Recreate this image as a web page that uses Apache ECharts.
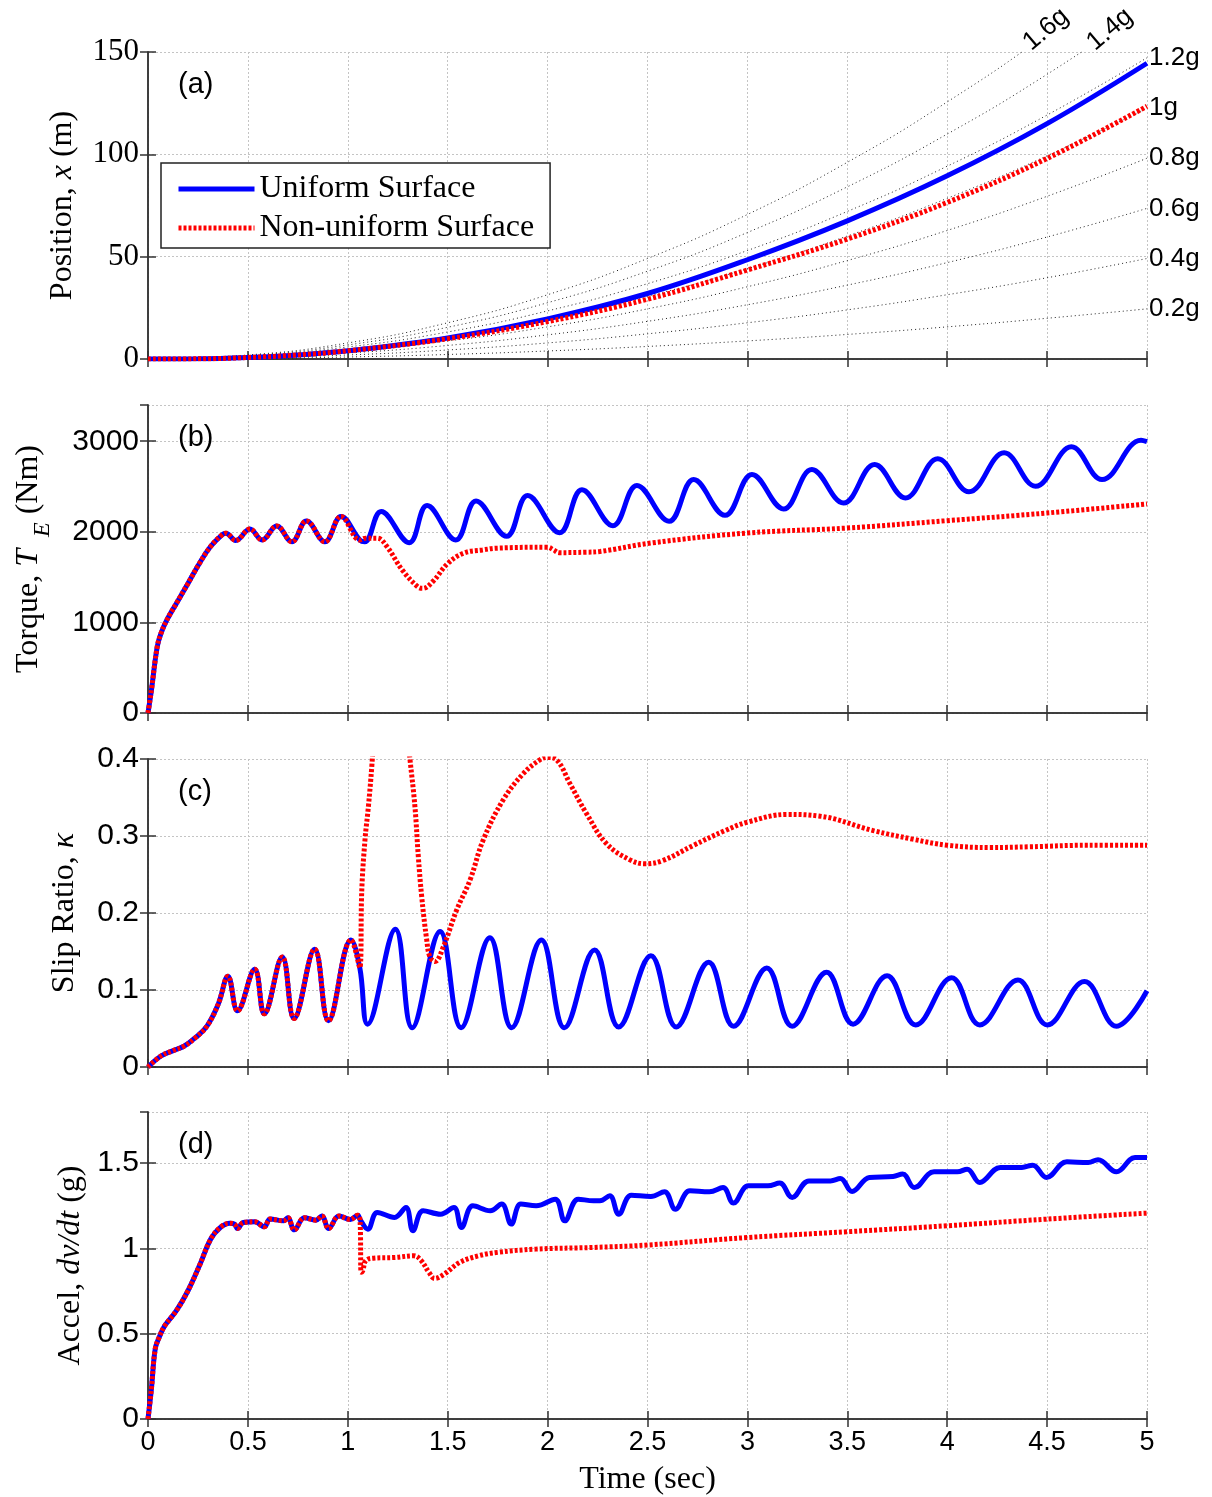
<!DOCTYPE html>
<html><head><meta charset="utf-8">
<script src="https://cdn.jsdelivr.net/npm/echarts@6/dist/echarts.min.js"></script>
<style>html,body{margin:0;padding:0;background:#fff}#c{width:1212px;height:1497px}</style>
</head><body><div id="c"></div>
<script>
// ---------- DATA ----------
// constant-acceleration reference curves (panel a), values at timeGrid
const timeGrid = [0, 0.5, 1, 1.5, 2, 2.5, 3, 3.5, 4, 4.5, 5];
const gNames = ['0.2g', '0.4g', '0.6g', '0.8g', '1g', '1.2g', '1.4g', '1.6g'];
const g02 = [0, 0.25, 0.98, 2.21, 3.92, 6.13, 8.83, 12.0, 15.7, 19.9, 24.5];
const g04 = [0, 0.49, 1.96, 4.41, 7.85, 12.3, 17.7, 24.0, 31.4, 39.7, 49.1];
const g06 = [0, 0.74, 2.94, 6.62, 11.8, 18.4, 26.5, 36.1, 47.1, 59.6, 73.6];
const g08 = [0, 0.98, 3.92, 8.83, 15.7, 24.5, 35.3, 48.1, 62.8, 79.5, 98.1];
const g10 = [0, 1.23, 4.91, 11.0, 19.6, 30.7, 44.1, 60.1, 78.5, 99.3, 122.6];
const g12 = [0, 1.47, 5.89, 13.2, 23.5, 36.8, 53.0, 72.1, 94.2, 119.2, 147.2];
const g14 = [0, 1.72, 6.87, 15.5, 27.5, 42.9, 61.8, 84.1, 109.9, 139.1, 171.7];
const g16 = [0, 1.96, 7.85, 17.7, 31.4, 49.1, 70.6, 96.1, 125.6, 158.9, 196.2];
// times where the 1.4g / 1.6g curves leave the top of panel (a)
const gExitT = [4.68, 4.36];

// position (a)
const posT = [0, 0.25, 0.5, 0.75, 1, 1.5, 2, 2.5, 3, 3.5, 4, 4.5, 5];
const posUni = [0, 0.08, 0.74, 2.0, 4.0, 10.3, 19.6, 32, 48.5, 67.5, 89.5, 115, 144.5];
const posNon = [0, 0.08, 0.74, 2.0, 4.0, 9.9, 18.3, 29.2, 43.5, 58.6, 76.5, 98, 123.5];

// torque (b)
const torqueCommonT = [0, 0.017, 0.046, 0.065, 0.094, 0.142, 0.2, 0.257, 0.314, 0.372, 0.39, 0.439, 0.51, 0.571, 0.644, 0.72, 0.793, 0.885, 0.966, 1.06];
const torqueCommonV = [0, 250, 730, 880, 1025, 1210, 1430, 1650, 1840, 1970, 1985, 1905, 2030, 1910, 2065, 1890, 2120, 1890, 2170, 1910];
const torqueUniT = [1.085, 1.167, 1.307, 1.397, 1.54, 1.642, 1.795, 1.90, 2.06, 2.172, 2.327, 2.447, 2.608, 2.731, 2.888, 3.023, 3.181, 3.323, 3.481, 3.637, 3.791, 3.953, 4.109, 4.285, 4.442, 4.622, 4.775, 4.97, 5.0];
const torqueUniV = [1890, 2225, 1880, 2290, 1910, 2340, 1950, 2400, 1990, 2465, 2068, 2511, 2116, 2577, 2182, 2632, 2252, 2688, 2318, 2743, 2374, 2806, 2441, 2872, 2503, 2939, 2577, 3012, 2995];
const torqueNonT = [1.09, 1.147, 1.195, 1.272, 1.349, 1.375, 1.425, 1.50, 1.58, 1.674, 1.75, 2.0, 2.03, 2.057, 2.19, 2.262, 2.516, 3.0, 3.5, 4.0, 4.5, 5.0];
const torqueNonV = [1930, 1930, 1840, 1580, 1395, 1376, 1450, 1650, 1765, 1800, 1820, 1830, 1800, 1770, 1775, 1783, 1876, 1987, 2042, 2123, 2208, 2308];

// slip ratio (c)
const slipCommonT = [0, 0.065, 0.123, 0.18, 0.237, 0.295, 0.352, 0.4, 0.448, 0.534, 0.582, 0.672, 0.731, 0.834, 0.903, 1.016, 1.06];
const slipCommonV = [0, 0.0143, 0.021, 0.027, 0.038, 0.053, 0.082, 0.118, 0.073, 0.127, 0.069, 0.143, 0.063, 0.153, 0.060, 0.165, 0.129];
const slipUniT = [1.099, 1.238, 1.322, 1.462, 1.567, 1.711, 1.82, 1.969, 2.084, 2.235, 2.356, 2.517, 2.644, 2.806, 2.931, 3.097, 3.224, 3.396, 3.529, 3.699, 3.842, 4.022, 4.163, 4.354, 4.501, 4.687, 4.847, 5.0];
const slipUniV = [0.0556, 0.179, 0.051, 0.176, 0.051, 0.168, 0.051, 0.165, 0.051, 0.152, 0.052, 0.1446, 0.052, 0.136, 0.053, 0.1285, 0.053, 0.123, 0.0556, 0.1185, 0.0547, 0.116, 0.0547, 0.113, 0.0547, 0.111, 0.053, 0.099];
const slipNonT = [1.07, 1.086, 1.103, 1.12, 1.15, 1.21, 1.27, 1.311, 1.336, 1.353, 1.37, 1.395, 1.411, 1.436, 1.478, 1.545, 1.612, 1.678, 1.778, 1.878, 1.962, 2.0, 2.045, 2.112, 2.195, 2.295, 2.412, 2.487, 2.575, 2.731, 2.888, 3.0, 3.2, 3.357, 3.63, 3.826, 4.0, 4.217, 4.413, 4.706, 5.0];
const slipNonV = [0.23, 0.295, 0.338, 0.39, 0.5, 0.6, 0.5, 0.4, 0.338, 0.273, 0.221, 0.165, 0.143, 0.137, 0.156, 0.204, 0.243, 0.295, 0.347, 0.381, 0.399, 0.402, 0.399, 0.368, 0.329, 0.29, 0.269, 0.264, 0.268, 0.288, 0.307, 0.318, 0.328, 0.326, 0.307, 0.296, 0.288, 0.285, 0.286, 0.288, 0.288];

// acceleration (d)
const accCommonT = [0, 0.017, 0.036, 0.056, 0.084, 0.142, 0.2, 0.257, 0.314, 0.362, 0.41, 0.433, 0.448, 0.477, 0.534, 0.582, 0.611, 0.678, 0.7, 0.732, 0.783, 0.84, 0.87, 0.904, 0.956, 1.013, 1.05, 1.061];
const accCommonV = [0, 0.176, 0.41, 0.479, 0.547, 0.635, 0.752, 0.898, 1.055, 1.123, 1.148, 1.143, 1.117, 1.152, 1.156, 1.127, 1.172, 1.162, 1.18, 1.109, 1.18, 1.166, 1.19, 1.117, 1.19, 1.17, 1.195, 1.17];
const accUniT = [1.1, 1.148, 1.234, 1.291, 1.326, 1.377, 1.464, 1.531, 1.569, 1.626, 1.713, 1.77, 1.818, 1.866, 1.943, 2.038, 2.086, 2.153, 2.23, 2.262, 2.311, 2.356, 2.419, 2.517, 2.585, 2.64, 2.712, 2.81, 2.878, 2.93, 3.005, 3.103, 3.162, 3.224, 3.308, 3.416, 3.465, 3.524, 3.611, 3.729, 3.777, 3.836, 3.934, 4.051, 4.1, 4.163, 4.266, 4.374, 4.428, 4.497, 4.599, 4.706, 4.755, 4.847, 4.94, 5.0];
const accUniV = [1.113, 1.211, 1.182, 1.24, 1.104, 1.221, 1.201, 1.24, 1.123, 1.25, 1.221, 1.26, 1.143, 1.26, 1.25, 1.289, 1.162, 1.289, 1.279, 1.279, 1.309, 1.201, 1.3125, 1.305, 1.332, 1.23, 1.338, 1.332, 1.357, 1.266, 1.367, 1.367, 1.383, 1.299, 1.396, 1.396, 1.41, 1.334, 1.416, 1.422, 1.436, 1.357, 1.449, 1.449, 1.465, 1.387, 1.475, 1.475, 1.488, 1.416, 1.508, 1.504, 1.52, 1.449, 1.533, 1.533];
const accNonT = [1.067, 1.075, 1.09, 1.128, 1.234, 1.33, 1.368, 1.406, 1.435, 1.483, 1.56, 1.655, 1.75, 1.94, 2.23, 2.5, 3.0, 3.5, 4.0, 4.5, 5.0];
const accNonV = [0.86, 0.87, 0.928, 0.943, 0.947, 0.957, 0.928, 0.86, 0.824, 0.85, 0.918, 0.957, 0.977, 0.996, 1.006, 1.02, 1.064, 1.098, 1.133, 1.172, 1.207];

// ---------- BUILD ----------
const zip = (t, v) => t.map((x, i) => [x, v[i]]);
const SERIF = 'Liberation Serif', SANS = 'Liberation Sans';
const BOX = '#333';
const panels = [
  {top: 52, height: 307, min: 0, max: 150, interval: 50},
  {top: 405, height: 308, min: 0, max: 3400, interval: 1000},
  {top: 759, height: 308, min: 0, max: 0.4, interval: 0.1},
  {top: 1112, height: 308, min: 0, max: 1.8, interval: 0.5}
];
const yNames = [
  {name: '{n|Position, }{i|x}{n| (m)}', gap: 59},
  {name: '{n|Torque, }{i|T}{s|  E}{n| (Nm)}', gap: 93},
  {name: '{n|Slip Ratio, }{i|κ}', gap: 57},
  {name: '{n|Accel, }{i|dv/dt}{n| (g)}', gap: 44}
];
const richY = {
  n: {fontFamily: SERIF, fontSize: 32, lineHeight: 52, color: '#000', verticalAlign: 'middle'},
  i: {fontFamily: SERIF, fontStyle: 'italic', fontSize: 32, lineHeight: 52, color: '#000', verticalAlign: 'middle'},
  s: {fontFamily: SERIF, fontStyle: 'italic', fontSize: 24, lineHeight: 52, color: '#000', verticalAlign: 'bottom'}
};

const grid = [], xAxis = [], yAxis = [], series = [], title = [];
const labels = ['(a)', '(b)', '(c)', '(d)'];
panels.forEach((p, i) => {
  grid.push({left: 148, right: 65, top: p.top, height: p.height});
  const last = i === 3;
  xAxis.push({
    type: 'value', gridIndex: i, position: 'bottom', min: 0, max: 5, interval: 0.5,
    axisLine: {show: true, lineStyle: {color: BOX, width: 1.5}},
    axisTick: {show: true, inside: true, length: 8, lineStyle: {color: BOX, width: 1.5}},
    axisLabel: {show: last, margin: 10, fontFamily: SANS, fontSize: 27, color: '#000', formatter: v => String(v)},
    splitLine: {show: true, lineStyle: {color: '#c4c4c4', width: 1, type: [2, 2]}},
    name: last ? 'Time (sec)' : '', nameLocation: 'middle', nameGap: 45,
    nameTextStyle: {fontFamily: SERIF, fontSize: 32, color: '#000'}
  });
  xAxis.push({
    type: 'value', gridIndex: i, position: 'top', min: 0, max: 5, interval: 0.5,
    axisLine: {show: true, lineStyle: {color: BOX, width: 1.5}},
    axisTick: {show: true, inside: true, length: 8, lineStyle: {color: BOX, width: 1.5}},
    axisLabel: {show: false}, splitLine: {show: false}
  });
  yAxis.push({
    type: 'value', gridIndex: i, position: 'left', min: p.min, max: p.max, interval: p.interval,
    axisLine: {show: true, lineStyle: {color: BOX, width: 1.5}},
    axisTick: {show: true, inside: true, length: 8, lineStyle: {color: BOX, width: 1.5}},
    axisLabel: {show: true, margin: 9, showMaxLabel: (i === 0 || i === 2), fontFamily: i === 0 ? SERIF : SANS,
      fontSize: i === 0 ? 31 : 30, color: '#000', formatter: v => String(v)},
    splitLine: {show: true, lineStyle: {color: '#c4c4c4', width: 1, type: [2, 2]}},
    name: yNames[i].name, nameLocation: 'middle', nameRotate: 90, nameGap: yNames[i].gap,
    nameTextStyle: {rich: richY}
  });
  yAxis.push({
    type: 'value', gridIndex: i, position: 'right', min: p.min, max: p.max, interval: p.interval,
    axisLine: {show: true, lineStyle: {color: BOX, width: 1.5}},
    axisTick: {show: true, inside: true, length: 8, lineStyle: {color: BOX, width: 1.5}},
    axisLabel: {show: false}, splitLine: {show: false}
  });
  title.push({text: labels[i], left: 178, top: p.top + 18, padding: 0,
    textStyle: {fontFamily: SANS, fontSize: 29, fontWeight: 'normal', color: '#000'}});
});

// g reference lines
const gVals = [g02, g04, g06, g08, g10, g12, g14, g16];
gVals.forEach((vals, k) => {
  const nm = gNames[k];
  const exitIdx = k - 6; // 0 for 1.4g, 1 for 1.6g
  const s = {
    name: nm, type: 'line', xAxisIndex: 0, yAxisIndex: 0, data: zip(timeGrid, vals),
    smooth: 0.5, symbol: 'none', silent: true, z: 1,
    lineStyle: {color: '#222', width: 1, type: [1, 3]},
    endLabel: {show: exitIdx < 0, formatter: nm, color: '#000', fontFamily: SANS, fontSize: 26, distance: 2}
  };
  if (exitIdx >= 0) {
    s.markPoint = {
      symbol: 'circle', symbolSize: 1, itemStyle: {color: 'rgba(0,0,0,0)'}, silent: true,
      data: [{coord: [gExitT[exitIdx], 150], label: {show: true, position: 'inside', formatter: nm,
        rotate: 40, offset: [35, 0], color: '#000', fontFamily: SANS, fontSize: 26}}]
    };
  }
  series.push(s);
});

function blue(i, data) {
  return {name: 'Uniform Surface', type: 'line', xAxisIndex: 2 * i, yAxisIndex: 2 * i, data,
    symbol: 'none', smooth: 0.4, z: 3,
    lineStyle: {color: '#0000ff', width: 5}, itemStyle: {color: '#0000ff'}};
}
function red(i, data) {
  return {name: 'Non-uniform Surface', type: 'line', xAxisIndex: 2 * i, yAxisIndex: 2 * i, data,
    symbol: 'none', smooth: 0.4, z: 4,
    lineStyle: {color: '#ff0000', width: 5, type: [3, 2]}, itemStyle: {color: '#ff0000'}};
}
series.push(blue(0, zip(posT, posUni)), red(0, zip(posT, posNon)));
series.push(blue(1, zip(torqueCommonT, torqueCommonV).concat(zip(torqueUniT, torqueUniV))),
            red(1, zip(torqueCommonT, torqueCommonV).concat(zip(torqueNonT, torqueNonV))));
series.push(blue(2, zip(slipCommonT, slipCommonV).concat(zip(slipUniT, slipUniV))),
            red(2, zip(slipCommonT, slipCommonV).concat(zip(slipNonT, slipNonV))));
series.push(blue(3, zip(accCommonT, accCommonV).concat(zip(accUniT, accUniV))),
            red(3, zip(accCommonT, accCommonV).concat(zip(accNonT, accNonV))));

const chart = echarts.init(document.getElementById('c'), null, {renderer: 'canvas'});
chart.setOption({
  animation: false,
  backgroundColor: '#fff',
  title, grid, xAxis, yAxis, series,
  legend: {
    data: ['Uniform Surface', 'Non-uniform Surface'],
    orient: 'vertical', left: 161, top: 163,
    padding: [10, 16, 4, 15], itemGap: 7, itemWidth: 76, itemHeight: 2,
    backgroundColor: '#fff', borderColor: '#222', borderWidth: 1.5, borderRadius: 0,
    selectedMode: false,
    itemStyle: {opacity: 0},
    lineStyle: {width: 5},
    textStyle: {fontFamily: SERIF, fontSize: 32, color: '#000', lineHeight: 32}
  }
});
</script></body></html>
